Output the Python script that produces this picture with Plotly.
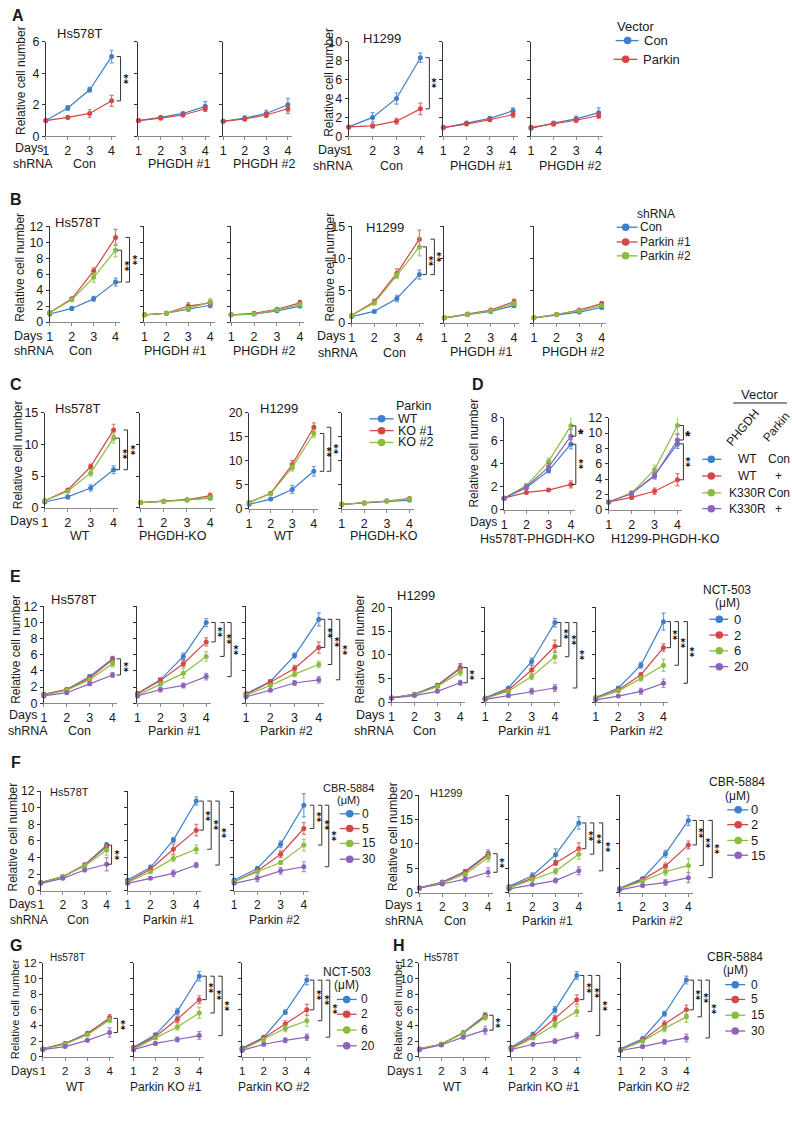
import plotly.graph_objects as go

W, H = 792, 1121
DAYS = [1, 2, 3, 4]
DAY_TICKS = ["1", "2", "3", "4"]

BLUE, RED, GREEN, PURPLE = "#3d7fcb", "#d24848", "#8cbc3f", "#8c64b9"
C2 = [BLUE, RED]
C3 = [BLUE, RED, GREEN]
C4 = [BLUE, RED, GREEN, PURPLE]

# ---------------- data ----------------
# A : Vector Con / Parkin
A_HS_CON = {"Con": [1.0, 1.8, 2.95, 5.05], "Parkin": [1.0, 1.2, 1.45, 2.25]}
A_HS_CON_E = {"Con": [0.05, 0.15, 0.15, 0.4], "Parkin": [0.05, 0.1, 0.25, 0.35]}
A_HS_P1 = {"Con": [1.0, 1.2, 1.45, 1.9], "Parkin": [1.0, 1.15, 1.35, 1.75]}
A_HS_P1_E = {"Con": [0.05, 0.1, 0.08, 0.3], "Parkin": [0.05, 0.08, 0.1, 0.15]}
A_HS_P2 = {"Con": [0.95, 1.15, 1.45, 2.0], "Parkin": [0.95, 1.1, 1.35, 1.75]}
A_HS_P2_E = {"Con": [0.05, 0.15, 0.2, 0.4], "Parkin": [0.05, 0.1, 0.15, 0.3]}
A_H1_CON = {"Con": [1.0, 2.0, 4.0, 8.3], "Parkin": [1.0, 1.1, 1.6, 2.9]}
A_H1_CON_E = {"Con": [0.1, 0.5, 0.6, 0.5], "Parkin": [0.05, 0.2, 0.3, 0.6]}
A_H1_P1 = {"Con": [0.9, 1.4, 1.9, 2.7], "Parkin": [0.95, 1.3, 1.75, 2.3]}
A_H1_P1_E = {"Con": [0.05, 0.1, 0.1, 0.3], "Parkin": [0.05, 0.1, 0.15, 0.3]}
A_H1_P2 = {"Con": [0.85, 1.4, 1.85, 2.5], "Parkin": [0.95, 1.3, 1.7, 2.2]}
A_H1_P2_E = {"Con": [0.05, 0.15, 0.3, 0.5], "Parkin": [0.05, 0.2, 0.2, 0.3]}

# B : shRNA Con / Parkin #1 / Parkin #2
B_HS_CON = {"Con": [1.0, 1.7, 2.9, 5.0], "Parkin #1": [1.2, 2.9, 6.4, 10.6], "Parkin #2": [1.2, 2.8, 5.6, 9.0]}
B_HS_CON_E = {"Con": [0.05, 0.25, 0.3, 0.5], "Parkin #1": [0.05, 0.2, 0.4, 1.0], "Parkin #2": [0.05, 0.2, 0.6, 0.8]}
B_HS_P1 = {"Con": [0.9, 1.1, 1.6, 2.1], "Parkin #1": [0.9, 1.1, 2.0, 2.4], "Parkin #2": [0.9, 1.1, 1.7, 2.5]}
B_HS_P1_E = {"Con": [0.05, 0.05, 0.2, 0.3], "Parkin #1": [0.05, 0.1, 0.4, 0.3], "Parkin #2": [0.05, 0.1, 0.2, 0.4]}
B_HS_P2 = {"Con": [0.9, 1.0, 1.4, 2.0], "Parkin #1": [0.9, 1.1, 1.6, 2.4], "Parkin #2": [0.9, 1.0, 1.5, 2.2]}
B_HS_P2_E = {"Con": [0.05, 0.05, 0.15, 0.2], "Parkin #1": [0.05, 0.1, 0.15, 0.3], "Parkin #2": [0.05, 0.05, 0.1, 0.2]}
B_H1_CON = {"Con": [1.0, 1.8, 3.8, 7.5], "Parkin #1": [1.2, 3.3, 7.7, 13.0], "Parkin #2": [1.2, 3.1, 7.4, 11.8]}
B_H1_CON_E = {"Con": [0.05, 0.2, 0.5, 0.7], "Parkin #1": [0.1, 0.4, 0.7, 1.4], "Parkin #2": [0.1, 0.3, 0.5, 1.4]}
B_H1_P1 = {"Con": [0.8, 1.3, 1.8, 2.7], "Parkin #1": [0.8, 1.4, 2.0, 3.3], "Parkin #2": [0.8, 1.3, 1.9, 3.0]}
B_H1_P1_E = {"Con": [0.05, 0.1, 0.15, 0.3], "Parkin #1": [0.05, 0.1, 0.2, 0.4], "Parkin #2": [0.05, 0.1, 0.2, 0.3]}
B_H1_P2 = {"Con": [0.8, 1.3, 1.7, 2.4], "Parkin #1": [0.8, 1.3, 2.0, 3.0], "Parkin #2": [0.8, 1.3, 1.9, 2.7]}
B_H1_P2_E = {"Con": [0.05, 0.1, 0.15, 0.2], "Parkin #1": [0.05, 0.1, 0.15, 0.3], "Parkin #2": [0.05, 0.1, 0.15, 0.2]}

# C : Parkin WT / KO #1 / KO #2
C_HS_WT = {"WT": [0.9, 1.7, 3.1, 6.0], "KO #1": [1.1, 2.8, 6.5, 12.3], "KO #2": [1.1, 2.6, 5.5, 11.0]}
C_HS_WT_E = {"WT": [0.1, 0.3, 0.5, 0.6], "KO #1": [0.1, 0.2, 0.4, 0.9], "KO #2": [0.1, 0.2, 0.5, 0.8]}
C_HS_KO = {"WT": [0.8, 1.0, 1.2, 1.5], "KO #1": [0.8, 1.0, 1.25, 1.9], "KO #2": [0.8, 1.0, 1.2, 1.6]}
C_HS_KO_E = {"WT": [0.05, 0.05, 0.1, 0.2], "KO #1": [0.05, 0.05, 0.1, 0.4], "KO #2": [0.05, 0.05, 0.1, 0.2]}
C_H1_WT = {"WT": [0.9, 2.0, 4.0, 7.8], "KO #1": [1.3, 3.2, 9.2, 17.0], "KO #2": [1.3, 3.1, 8.6, 15.7]}
C_H1_WT_E = {"WT": [0.1, 0.2, 0.8, 1.0], "KO #1": [0.1, 0.2, 0.9, 0.9], "KO #2": [0.1, 0.2, 0.7, 0.8]}
C_H1_KO = {"WT": [0.9, 1.2, 1.6, 1.8], "KO #1": [0.9, 1.2, 1.6, 2.1], "KO #2": [0.9, 1.2, 1.6, 2.0]}
C_H1_KO_E = {"WT": [0.05, 0.05, 0.1, 0.2], "KO #1": [0.05, 0.05, 0.1, 0.2], "KO #2": [0.05, 0.05, 0.1, 0.2]}

# D : PHGDH / Parkin vector
D_HS = {"WT_Con": [1.0, 1.9, 3.4, 5.7], "WT_P": [1.0, 1.5, 1.7, 2.2], "K_Con": [1.0, 2.1, 4.2, 7.3], "K_P": [1.0, 2.0, 3.7, 6.4]}
D_HS_E = {"WT_Con": [0.05, 0.1, 0.2, 0.4], "WT_P": [0.05, 0.1, 0.1, 0.3], "K_Con": [0.05, 0.15, 0.3, 0.8], "K_P": [0.05, 0.1, 0.3, 0.6]}
D_H1 = {"WT_Con": [1.0, 2.1, 4.5, 8.6], "WT_P": [1.0, 1.6, 2.4, 3.9], "K_Con": [1.0, 2.2, 5.2, 11.0], "K_P": [1.0, 2.1, 4.4, 9.1]}
D_H1_E = {"WT_Con": [0.05, 0.2, 0.4, 0.6], "WT_P": [0.05, 0.2, 0.4, 0.8], "K_Con": [0.05, 0.2, 0.6, 1.2], "K_P": [0.05, 0.2, 0.4, 0.8]}
D_ROWS = [("WT", "Con"), ("WT", "+"), ("K330R", "Con"), ("K330R", "+")]

# E : NCT-503 (uM)
E_HS_CON = {"0": [1.1, 1.7, 3.3, 5.5], "2": [1.1, 1.7, 3.1, 5.4], "6": [1.0, 1.6, 2.9, 4.9], "20": [0.9, 1.3, 2.4, 3.5]}
E_HS_CON_E = {"0": [0.1, 0.1, 0.2, 0.3], "2": [0.1, 0.1, 0.2, 0.3], "6": [0.1, 0.1, 0.2, 0.4], "20": [0.1, 0.1, 0.2, 0.3]}
E_HS_P1 = {"0": [1.2, 2.9, 5.8, 10.0], "2": [1.2, 2.8, 4.9, 7.6], "6": [1.0, 2.4, 3.7, 5.8], "20": [0.9, 1.7, 2.2, 3.3]}
E_HS_P1_E = {"0": [0.1, 0.2, 0.4, 0.5], "2": [0.1, 0.2, 0.4, 0.5], "6": [0.1, 0.2, 0.6, 0.6], "20": [0.1, 0.3, 0.3, 0.4]}
E_HS_P2 = {"0": [1.2, 2.7, 5.9, 10.4], "2": [1.1, 2.6, 4.3, 6.9], "6": [1.0, 2.2, 3.6, 4.8], "20": [0.8, 1.6, 2.5, 2.9]}
E_HS_P2_E = {"0": [0.1, 0.2, 0.3, 0.8], "2": [0.1, 0.1, 0.4, 0.7], "6": [0.1, 0.1, 0.3, 0.4], "20": [0.1, 0.1, 0.3, 0.4]}
E_H1_CON = {"0": [0.9, 1.7, 3.6, 7.3], "2": [0.9, 1.6, 3.4, 7.1], "6": [0.9, 1.6, 3.3, 6.3], "20": [0.9, 1.4, 2.3, 4.1]}
E_H1_CON_E = {"0": [0.1, 0.2, 0.3, 0.8], "2": [0.1, 0.1, 0.3, 1.0], "6": [0.1, 0.1, 0.3, 0.7], "20": [0.1, 0.1, 0.3, 0.5]}
E_H1_P1 = {"0": [0.9, 3.0, 8.6, 16.8], "2": [0.8, 2.6, 6.8, 11.8], "6": [0.8, 2.3, 5.4, 9.6], "20": [0.6, 1.4, 2.3, 3.0]}
E_H1_P1_E = {"0": [0.1, 0.3, 0.7, 0.9], "2": [0.1, 0.2, 0.9, 1.3], "6": [0.1, 0.2, 0.6, 1.3], "20": [0.1, 0.3, 0.6, 0.7]}
E_H1_P2 = {"0": [1.0, 3.0, 7.8, 17.0], "2": [0.8, 2.6, 5.8, 11.5], "6": [0.8, 2.4, 5.0, 7.8], "20": [0.5, 1.3, 2.3, 4.0]}
E_H1_P2_E = {"0": [0.1, 0.3, 0.6, 1.8], "2": [0.1, 0.2, 0.4, 0.8], "6": [0.1, 0.2, 0.5, 1.3], "20": [0.1, 0.2, 0.6, 0.9]}

# F : CBR-5884 (uM)
F_HS_CON = {"0": [1.0, 1.7, 3.1, 5.5], "5": [1.0, 1.7, 3.1, 5.3], "15": [1.0, 1.7, 3.0, 4.9], "30": [0.9, 1.5, 2.5, 3.2]}
F_HS_CON_E = {"0": [0.1, 0.1, 0.2, 0.3], "5": [0.1, 0.1, 0.2, 0.3], "15": [0.1, 0.1, 0.2, 0.6], "30": [0.1, 0.1, 0.2, 0.8]}
F_HS_P1 = {"0": [1.3, 2.8, 6.1, 10.8], "5": [1.1, 2.6, 5.0, 7.3], "15": [1.0, 2.3, 3.9, 5.0], "30": [0.9, 1.5, 2.1, 3.1]}
F_HS_P1_E = {"0": [0.1, 0.3, 0.3, 0.5], "5": [0.1, 0.2, 0.6, 0.7], "15": [0.1, 0.1, 0.4, 0.5], "30": [0.1, 0.1, 0.4, 0.3]}
F_HS_P2 = {"0": [1.3, 2.7, 5.6, 10.3], "5": [1.1, 2.4, 4.4, 7.5], "15": [1.1, 2.3, 3.4, 5.5], "30": [0.9, 1.5, 2.4, 2.9]}
F_HS_P2_E = {"0": [0.1, 0.2, 0.4, 1.4], "5": [0.1, 0.2, 0.4, 0.7], "15": [0.1, 0.1, 0.2, 0.7], "30": [0.1, 0.4, 0.4, 0.6]}
F_H1_CON = {"0": [1.0, 2.2, 4.4, 8.0], "2": [1.0, 2.1, 4.2, 7.8], "5": [1.0, 2.0, 3.8, 7.2], "15": [1.0, 1.8, 2.8, 4.2]}
F_H1_CON_E = {"0": [0.1, 0.2, 0.3, 0.8], "2": [0.1, 0.1, 0.3, 0.6], "5": [0.1, 0.1, 0.3, 0.8], "15": [0.1, 0.2, 0.5, 0.9]}
F_H1_P1 = {"0": [1.3, 3.5, 7.8, 14.3], "2": [1.1, 3.0, 6.1, 9.0], "5": [1.0, 2.7, 4.4, 7.9], "15": [0.8, 1.7, 2.5, 4.5]}
F_H1_P1_E = {"0": [0.1, 0.6, 1.2, 1.3], "2": [0.1, 0.2, 0.5, 1.2], "5": [0.1, 0.2, 0.6, 1.0], "15": [0.1, 0.2, 0.5, 0.8]}
F_H1_P2 = {"0": [0.9, 2.9, 8.0, 14.8], "2": [0.8, 2.7, 5.5, 9.8], "5": [0.8, 2.4, 4.3, 5.6], "15": [0.6, 1.5, 2.1, 3.1]}
F_H1_P2_E = {"0": [0.1, 0.2, 0.7, 1.0], "2": [0.1, 0.2, 0.6, 0.8], "5": [0.1, 0.2, 0.7, 1.4], "15": [0.1, 0.3, 0.6, 1.0]}

# G : NCT-503 (uM), Parkin KO
G_WT = {"0": [1.0, 1.7, 3.0, 4.9], "2": [1.0, 1.7, 2.9, 5.0], "6": [1.0, 1.6, 2.8, 4.7], "20": [0.9, 1.3, 2.1, 3.1]}
G_WT_E = {"0": [0.05, 0.1, 0.1, 0.3], "2": [0.05, 0.1, 0.1, 0.4], "6": [0.05, 0.1, 0.1, 0.3], "20": [0.05, 0.1, 0.2, 0.6]}
G_P1 = {"0": [1.2, 2.8, 5.8, 10.3], "2": [1.1, 2.6, 4.8, 7.3], "6": [1.0, 2.4, 3.8, 5.6], "20": [0.9, 1.7, 2.2, 2.7]}
G_P1_E = {"0": [0.1, 0.2, 0.4, 0.6], "2": [0.1, 0.2, 0.4, 0.5], "6": [0.1, 0.2, 0.4, 0.7], "20": [0.1, 0.2, 0.3, 0.5]}
G_P2 = {"0": [1.1, 2.5, 5.7, 9.8], "2": [1.0, 2.4, 4.2, 6.0], "6": [0.9, 2.2, 3.6, 4.6], "20": [0.8, 1.6, 2.1, 2.5]}
G_P2_E = {"0": [0.1, 0.2, 0.3, 0.6], "2": [0.1, 0.2, 0.4, 0.7], "6": [0.1, 0.2, 0.4, 0.7], "20": [0.1, 0.2, 0.3, 0.4]}

# H : CBR-5884 (uM), Parkin KO
H_WT = {"0": [1.0, 1.6, 3.1, 5.3], "5": [1.0, 1.6, 3.0, 5.2], "15": [1.0, 1.6, 3.0, 5.0], "30": [0.9, 1.5, 2.5, 3.4]}
H_WT_E = {"0": [0.05, 0.1, 0.1, 0.3], "5": [0.05, 0.1, 0.1, 0.3], "15": [0.05, 0.1, 0.1, 0.3], "30": [0.05, 0.1, 0.2, 0.5]}
H_P1 = {"0": [1.2, 2.9, 6.0, 10.4], "5": [1.1, 2.6, 4.9, 7.3], "15": [1.0, 2.4, 4.1, 5.8], "30": [0.9, 1.6, 2.0, 2.7]}
H_P1_E = {"0": [0.1, 0.2, 0.4, 0.5], "5": [0.1, 0.2, 0.4, 0.6], "15": [0.1, 0.2, 0.4, 0.6], "30": [0.1, 0.2, 0.3, 0.4]}
H_P2 = {"0": [1.0, 2.3, 5.5, 9.8], "5": [0.9, 2.1, 4.2, 6.0], "15": [0.9, 2.0, 3.6, 5.1], "30": [0.8, 1.3, 1.9, 2.4]}
H_P2_E = {"0": [0.1, 0.2, 0.3, 0.5], "5": [0.1, 0.2, 0.4, 0.6], "15": [0.1, 0.2, 0.4, 0.7], "30": [0.1, 0.2, 0.3, 0.5]}

# ---------------- helpers ----------------
FONT = "Liberation Sans, Arial, Helvetica, sans-serif"
STAR_FONT = "DejaVu Sans, Liberation Sans, sans-serif"
TXT = "#1a1a1a"
XLINE = "#8a8a8a"
YLINE = "#333333"
LBL = 12.5   # size of the group labels under the axes

fig = go.Figure()
axes = {}
shapes = []
annots = []
panels = []


def rgba(hexc, a):
    h = hexc.lstrip("#")
    return "rgba(%d,%d,%d,%.2f)" % (int(h[0:2], 16), int(h[2:4], 16), int(h[4:6], 16), a)


def txt(x, y, s, size=12, anchor="center", angle=0, bold=False, color=TXT):
    annots.append(dict(xref="paper", yref="paper", x=x / W, y=1 - y / H, text=("<b>%s</b>" % s) if bold else s,
                       showarrow=False, xanchor=anchor, yanchor="middle", textangle=angle, borderpad=0,
                       font=dict(size=size, color=color, family=FONT)))


def add_panel(series, errs, colors, x1, x4, ytop, y0, ymax, dtick, ylabels=True, tsize=12):
    k = len(panels) + 1
    s = (x4 - x1) / 3.0
    right = x4 + 0.2 * s
    xa = "xaxis" if k == 1 else "xaxis%d" % k
    ya = "yaxis" if k == 1 else "yaxis%d" % k
    xr = "x" if k == 1 else "x%d" % k
    yr = "y" if k == 1 else "y%d" % k
    axes[xa] = dict(domain=[x1 / W, right / W], range=[1, 4.2], anchor=yr, tickmode="array",
                    tickvals=DAYS, ticktext=DAY_TICKS, showline=True, linecolor=XLINE, linewidth=1,
                    ticks="outside", ticklen=3, tickcolor=XLINE, showgrid=False, zeroline=False,
                    tickfont=dict(size=tsize + 0.5, color=TXT, family=FONT), fixedrange=True)
    axes[ya] = dict(domain=[1 - y0 / H, 1 - ytop / H], range=[0, ymax], dtick=dtick, tick0=0, anchor=xr,
                    showline=True, linecolor=YLINE, linewidth=1, ticks="outside", ticklen=3,
                    tickcolor=YLINE, showticklabels=ylabels, showgrid=False, zeroline=False,
                    tickfont=dict(size=tsize + 0.5, color=TXT, family=FONT), fixedrange=True)
    for (name, vals), c in zip(series.items(), colors):
        fig.add_trace(go.Scatter(x=DAYS, y=vals, mode="lines+markers", name=name,
                                 line=dict(color=c, width=1.2), marker=dict(color=c, size=5),
                                 error_y=dict(type="data", array=errs[name], color=rgba(c, 0.75),
                                              thickness=1.2, width=2),
                                 xaxis=xr, yaxis=yr, cliponaxis=False, showlegend=False,
                                 hoverinfo="skip"))
    p = dict(x1=x1, x4=x4, right=right, ymax=ymax, hpx=y0 - ytop, series=series, xr=xr, yr=yr)
    panels.append(p)
    return p


def bracket(p, top, bot, off, nstars=2, arm=4):
    span = p["right"] - p["x1"]
    xb = (p["x4"] + off - p["x1"]) / span
    xa = (p["x4"] + off - arm - p["x1"]) / span
    yt = p["series"][top][-1] / p["ymax"]
    yb = p["series"][bot][-1] / p["ymax"]
    xd, yd = p["xr"] + " domain", p["yr"] + " domain"
    for a, b, c, d in [(xa, yt, xb, yt), (xb, yt, xb, yb), (xa, yb, xb, yb)]:
        shapes.append(dict(type="line", xref=xd, yref=yd, x0=a, y0=b, x1=c, y1=d,
                           line=dict(color="#333333", width=1)))
    mid = (yt + yb) / 2
    if nstars == 2:
        text, fam, size, shift = "<b>\u2051</b>", STAR_FONT, 12, 1.0   # two asterisks stacked vertically
    else:
        text, fam, size, shift = "<b>*</b>", FONT, 14, 3.0
    annots.append(dict(xref=xd, yref=yd, x=(p["x4"] + off + 5 - p["x1"]) / span,
                       y=mid - shift / p["hpx"], text=text, showarrow=False,
                       xanchor="center", yanchor="middle", borderpad=0,
                       font=dict(size=size, color="#000000", family=fam)))


def fan(p, keys, offs):
    for k, o in zip(keys[1:], offs):
        bracket(p, keys[0], k, o)


def leg_item(xl0, xl1, xm, y, color, label, xt, size=12, r=3.8):
    shapes.append(dict(type="line", xref="paper", yref="paper", x0=xl0 / W, x1=xl1 / W,
                       y0=1 - y / H, y1=1 - y / H, line=dict(color=color, width=1.3)))
    shapes.append(dict(type="circle", xref="paper", yref="paper", x0=(xm - r) / W, x1=(xm + r) / W,
                       y0=1 - (y + r) / H, y1=1 - (y - r) / H, fillcolor=color,
                       line=dict(color=color, width=0)))
    if label is not None:
        txt(xt, y, label, size, "left")


YT = "Relative cell number"

# ---------------- A ----------------
txt(15, 9, "A", 16, bold=True)
p = add_panel(A_HS_CON, A_HS_CON_E, C2, 43, 109, 35, 131, 6, 2)
bracket(p, "Con", "Parkin", 9)
add_panel(A_HS_P1, A_HS_P1_E, C2, 136, 203, 35, 131, 6, 2, False)
add_panel(A_HS_P2, A_HS_P2_E, C2, 221, 286, 35, 131, 6, 2, False)
p = add_panel(A_H1_CON, A_H1_CON_E, C2, 347, 419, 35, 131, 10, 2)
bracket(p, "Con", "Parkin", 9)
add_panel(A_H1_P1, A_H1_P1_E, C2, 442, 512, 35, 131, 10, 2, False)
add_panel(A_H1_P2, A_H1_P2_E, C2, 530, 598, 35, 131, 10, 2, False)
txt(18, 74, YT, 12, angle=-90)
txt(327, 76, YT, 12, angle=-90)
txt(77, 27, "Hs578T", 13)
txt(380, 32, "H1299", 13)
txt(41, 143, "Days", LBL, "right")
txt(345, 145, "Days", LBL, "right")
txt(30, 159, "shRNA", LBL)
txt(82, 159, "Con", LBL)
txt(177, 159, "PHGDH #1", LBL)
txt(262, 159, "PHGDH #2", LBL)
txt(331, 161, "shRNA", LBL)
txt(390, 161, "Con", LBL)
txt(480, 161, "PHGDH #1", LBL)
txt(570, 161, "PHGDH #2", LBL)
txt(615, 20, "Vector", 13, "left")
for (name, c), y, (l0, l1, m, t) in zip(zip(A_HS_CON.keys(), C2), [34, 53],
                                         [(615, 638, 627, 642), (613, 637, 625, 641)]):
    leg_item(l0, l1, m, y, c, name, t, 13)

# ---------------- B ----------------
txt(13, 195, "B", 16, bold=True)
p = add_panel(B_HS_CON, B_HS_CON_E, C3, 47, 113, 222, 319, 12, 2)
bracket(p, "Parkin #2", "Con", 6)
bracket(p, "Parkin #1", "Con", 14)
add_panel(B_HS_P1, B_HS_P1_E, C3, 142, 208, 222, 319, 12, 2, False)
add_panel(B_HS_P2, B_HS_P2_E, C3, 229, 298, 222, 319, 12, 2, False)
p = add_panel(B_H1_CON, B_H1_CON_E, C3, 350, 418, 222, 320, 15, 5)
bracket(p, "Parkin #2", "Con", 7)
bracket(p, "Parkin #1", "Con", 15)
add_panel(B_H1_P1, B_H1_P1_E, C3, 443, 513, 222, 320, 15, 5, False)
add_panel(B_H1_P2, B_H1_P2_E, C3, 533, 601, 222, 320, 15, 5, False)
txt(17, 263, YT, 12, angle=-90)
txt(328, 263, YT, 12, angle=-90)
txt(75, 218, "Hs578T", 13)
txt(383, 223, "H1299", 13)
txt(40, 333, "Days", LBL, "right")
txt(344, 333, "Days", LBL, "right")
txt(31, 348, "shRNA", LBL)
txt(78, 348, "Con", LBL)
txt(173, 348, "PHGDH #1", LBL)
txt(262, 348, "PHGDH #2", LBL)
txt(336, 350, "shRNA", LBL)
txt(393, 350, "Con", LBL)
txt(480, 349, "PHGDH #1", LBL)
txt(573, 349, "PHGDH #2", LBL)
txt(635, 210, "shRNA", 12, "left")
for (name, c), y in zip(zip(B_HS_CON.keys(), C3), [223, 238, 252]):
    leg_item(616, 637, 625, y, c, name, 638, 12)

# ---------------- C ----------------
txt(13, 382, "C", 16, bold=True)
p = add_panel(C_HS_WT, C_HS_WT_E, C3, 42, 111, 411, 507, 15, 5)
bracket(p, "KO #2", "WT", 6)
bracket(p, "KO #1", "WT", 14)
add_panel(C_HS_KO, C_HS_KO_E, C3, 138, 208, 411, 507, 15, 5, False)
p = add_panel(C_H1_WT, C_H1_WT_E, C3, 247, 312, 411, 508, 20, 5)
bracket(p, "KO #2", "WT", 10)
bracket(p, "KO #1", "WT", 17)
add_panel(C_H1_KO, C_H1_KO_E, C3, 340, 408, 411, 508, 20, 5, False)
txt(15, 453, YT, 12, angle=-90)
txt(75, 407, "Hs578T", 13)
txt(277, 407, "H1299", 13)
txt(36, 520, "Days", LBL, "right")
txt(77, 536, "WT", LBL)
txt(171, 536, "PHGDH-KO", LBL)
txt(282, 536, "WT", LBL)
txt(382, 536, "PHGDH-KO", LBL)
txt(393, 404, "Parkin", 12.5, "left")
for (name, c), y in zip(zip(C_HS_WT.keys(), C3), [417, 429, 441]):
    leg_item(368, 392, 380, y, c, name, 395, 12.5)

# ---------------- D ----------------
txt(477, 382, "D", 16, bold=True)
p = add_panel(D_HS, D_HS_E, C4, 503, 570, 416, 509, 8, 2)
bracket(p, "K_Con", "K_P", 5, 1)
bracket(p, "WT_Con", "WT_P", 5)
p = add_panel(D_H1, D_H1_E, C4, 608, 677, 416, 509, 12, 2)
bracket(p, "K_Con", "K_P", 6, 1)
bracket(p, "WT_Con", "WT_P", 6)
txt(473, 452, YT, 12, angle=-90)
txt(497, 522, "Days", 12, "right")
txt(537, 539, "Hs578T-PHGDH-KO", LBL)
txt(665, 539, "H1299-PHGDH-KO", LBL)
txt(760, 392, "Vector", 13)
shapes.append(dict(type="line", xref="paper", yref="paper", x0=733 / W, x1=787 / W,
                   y0=1 - 401 / H, y1=1 - 401 / H, line=dict(color="#222", width=1)))
txt(742, 426, "PHGDH", 12, angle=-50)
txt(776, 425, "Parkin", 12, angle=-50)
for (a, b), c, y in zip(D_ROWS, C4, [458, 475, 492, 508]):
    leg_item(702, 721, 711, y, c, None, 0)
    txt(747, y, a, 12)
    txt(779 if b == "Con" else 778, y, b, 12)

# ---------------- E ----------------
txt(13, 577, "E", 16, bold=True)
KE = list(E_HS_CON.keys())
p = add_panel(E_HS_CON, E_HS_CON_E, C4, 41, 110, 607, 705, 12, 2)
bracket(p, "0", "20", 8)
p = add_panel(E_HS_P1, E_HS_P1_E, C4, 135, 204, 607, 705, 12, 2, False)
fan(p, KE, [9, 18, 25])
p = add_panel(E_HS_P2, E_HS_P2_E, C4, 244, 317, 607, 705, 12, 2, False)
fan(p, KE, [6, 13, 21])
p = add_panel(E_H1_CON, E_H1_CON_E, C4, 390, 459, 608, 704, 20, 5)
bracket(p, "0", "20", 7)
p = add_panel(E_H1_P1, E_H1_P1_E, C4, 484, 554, 608, 704, 20, 5, False)
fan(p, KE, [6, 14, 22])
p = add_panel(E_H1_P2, E_H1_P2_E, C4, 595, 663, 608, 704, 20, 5, False)
fan(p, KE, [7, 15, 24])
txt(13, 650, YT, 12, angle=-90)
txt(358, 650, YT, 12, angle=-90)
txt(71, 600, "Hs578T", 13)
txt(415, 596, "H1299", 13)
txt(35, 717, "Days", LBL, "right")
txt(383, 717, "Days", LBL, "right")
txt(25, 733, "shRNA", LBL)
txt(77, 733, "Con", LBL)
txt(172, 733, "Parkin #1", LBL)
txt(285, 733, "Parkin #2", LBL)
txt(372, 733, "shRNA", LBL)
txt(423, 733, "Con", LBL)
txt(523, 733, "Parkin #1", LBL)
txt(636, 733, "Parkin #2", LBL)
txt(727, 590, "NCT-503", 12)
txt(727, 604, "(\u03bcM)", 12)
for (name, c), y in zip(zip(KE, C4), [620, 636, 652, 668]):
    leg_item(709, 728, 719, y, c, name, 733, 13)

# ---------------- F ----------------
txt(13, 765, "F", 16, bold=True)
KF = list(F_HS_CON.keys())
KF2 = list(F_H1_CON.keys())
p = add_panel(F_HS_CON, F_HS_CON_E, C4, 38, 104, 794, 895, 12, 2, True, 11.5)
bracket(p, "0", "30", 5)
p = add_panel(F_HS_P1, F_HS_P1_E, C4, 125, 194, 794, 895, 12, 2, False, 11.5)
fan(p, KF, [7, 15, 23])
p = add_panel(F_HS_P2, F_HS_P2_E, C4, 232, 302, 794, 895, 12, 2, False, 11.5)
fan(p, KF, [10, 18, 25])
p = add_panel(F_H1_CON, F_H1_CON_E, C4, 418, 487, 798, 897, 20, 5, True, 11.5)
bracket(p, "0", "15", 9)
p = add_panel(F_H1_P1, F_H1_P1_E, C4, 508, 578, 798, 897, 20, 5, False, 11.5)
fan(p, KF2, [7, 15, 24])
p = add_panel(F_H1_P2, F_H1_P2_E, C4, 619, 688, 798, 897, 20, 5, False, 11.5)
fan(p, KF2, [8, 15, 24])
txt(10, 840, YT, 12, angle=-90)
txt(391, 840, YT, 12, angle=-90)
txt(67, 795, "Hs578T", 11)
txt(445, 796, "H1299", 11)
txt(34, 908, "Days", 12, "right")
txt(412, 909, "Days", 12, "right")
txt(26, 925, "shRNA", 12)
txt(75, 925, "Con", 12)
txt(166, 925, "Parkin #1", 12)
txt(273, 925, "Parkin #2", 12)
txt(403, 926, "shRNA", 12)
txt(454, 926, "Con", 12)
txt(547, 926, "Parkin #1", 12)
txt(657, 926, "Parkin #2", 12)
txt(347, 791, "CBR-5884", 11)
txt(347, 803, "(\u03bcM)", 11)
for (name, c), y in zip(zip(KF, C4), [817, 832, 847, 863]):
    leg_item(338, 358, 348, y, c, name, 359, 12)
txt(737, 785, "CBR-5884", 12)
txt(737, 799, "(\u03bcM)", 12)
for (name, c), y in zip(zip(KF2, C4), [813, 828, 844, 859]):
    leg_item(727, 748, 738, y, c, name, 750, 13)

# ---------------- G ----------------
txt(13, 950, "G", 16, bold=True)
KG = list(G_WT.keys())
p = add_panel(G_WT, G_WT_E, C4, 40, 107, 968, 1063, 12, 2, True, 11)
bracket(p, "0", "20", 8)
p = add_panel(G_P1, G_P1_E, C4, 131, 197, 968, 1063, 12, 2, False, 11)
fan(p, KG, [7, 15, 23])
p = add_panel(G_P2, G_P2_E, C4, 240, 305, 968, 1063, 12, 2, False, 11)
fan(p, KG, [7, 15, 23])
txt(12, 1015, YT, 11, angle=-90)
txt(65, 963, "Hs578T", 10)
txt(36, 1077, "Days", 12, "right")
txt(73, 1094, "WT", 12)
txt(164, 1094, "Parkin KO #1", 12)
txt(272, 1094, "Parkin KO #2", 12)
txt(345, 977, "NCT-503", 12)
txt(345, 990, "(\u03bcM)", 12)
for (name, c), y in zip(zip(KG, C4), [1005, 1020, 1036, 1052]):
    leg_item(335, 355, 345, y, c, name, 358, 12)

# ---------------- H ----------------
txt(398, 950, "H", 16, bold=True)
KH = list(H_WT.keys())
p = add_panel(H_WT, H_WT_E, C4, 418, 484, 968, 1063, 12, 2, True, 11)
bracket(p, "0", "30", 8)
p = add_panel(H_P1, H_P1_E, C4, 510, 576, 968, 1063, 12, 2, False, 11)
fan(p, KH, [7, 15, 23])
p = add_panel(H_P2, H_P2_E, C4, 620, 686, 968, 1063, 12, 2, False, 11)
fan(p, KH, [7, 15, 23])
txt(397, 1015, YT, 11, angle=-90)
txt(440, 963, "Hs578T", 10)
txt(414, 1077, "Days", 12, "right")
txt(451, 1094, "WT", 12)
txt(543, 1094, "Parkin KO #1", 12)
txt(653, 1094, "Parkin KO #2", 12)
txt(735, 962, "CBR-5884", 12)
txt(735, 975, "(\u03bcM)", 12)
for (name, c), y in zip(zip(KH, C4), [990, 1005, 1021, 1037]):
    leg_item(725, 745, 735, y, c, name, 750, 12)

fig.update_layout(width=W, height=H, autosize=False, margin=dict(l=0, r=0, t=0, b=0),
                  paper_bgcolor="white", plot_bgcolor="white", showlegend=False,
                  font=dict(family=FONT, color=TXT), shapes=shapes, annotations=annots, **axes)
fig.write_html("out.html", config={"displayModeBar": False},
               post_script="document.body.style.margin='0';document.body.style.padding='0';"
                           "document.documentElement.style.overflow='hidden';"
                           "document.body.style.overflow='hidden';")
